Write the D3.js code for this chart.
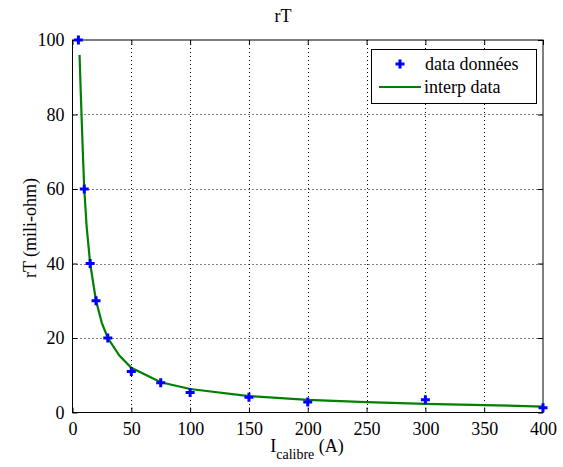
<!DOCTYPE html>
<html><head><meta charset="utf-8">
<script src="https://cdn.jsdelivr.net/npm/d3@7"></script>
<style>body{margin:0;background:#fff}svg{display:block}svg text{font-family:'Liberation Serif',serif !important;fill:#000}</style>
</head><body><svg id="c" width="563" height="467"></svg>
<script>
const dataX = [5, 10, 15, 20, 30, 50, 75, 100, 150, 200, 300, 400];
const dataY = [100, 60, 40, 30, 20, 11, 8, 5.4, 4.1, 2.8, 3.4, 1.3];
const interpX = [6, 7, 8, 9, 10, 12, 15, 20, 25, 30, 40, 50, 75, 100, 150, 200, 250, 300, 350, 400];
const interpY = [96, 86, 77, 68, 60, 50, 40, 30, 24, 20, 15.2, 12, 8.1, 6.3, 4.4, 3.4, 2.8, 2.3, 2.0, 1.6];
const xTicks = [0, 50, 100, 150, 200, 250, 300, 350, 400];
const yTicks = [0, 20, 40, 60, 80, 100];

const svg = d3.select("#c");
const L = 72.5, R = 543, T = 40, B = 412.5;
const x = d3.scaleLinear().domain([0, 400]).range([L, R]);
const y = d3.scaleLinear().domain([0, 100]).range([B, T]);
const FS = "18px";

// grid
const g = svg.append("g");
g.selectAll(".gx").data(xTicks.slice(1, -1)).enter().append("line")
  .attr("x1", d => Math.round(x(d)) + 0.5).attr("x2", d => Math.round(x(d)) + 0.5)
  .attr("y1", T).attr("y2", B).attr("stroke", "#000").attr("stroke-width", 1).attr("stroke-dasharray", "1,3");
g.selectAll(".gy").data(yTicks.slice(1, -1)).enter().append("line")
  .attr("y1", d => Math.round(y(d)) + 0.5).attr("y2", d => Math.round(y(d)) + 0.5)
  .attr("x1", L).attr("x2", R).attr("stroke", "#000").attr("stroke-width", 1).attr("stroke-dasharray", "1,3");

// axes
const xa = d3.axisBottom(x).tickValues(xTicks).tickSizeInner(-5).tickSizeOuter(0).tickPadding(10);
const ya = d3.axisLeft(y).tickValues(yTicks).tickSizeInner(-5).tickSizeOuter(0).tickPadding(8);
svg.append("g").attr("transform", `translate(0,${B})`).call(xa).attr("font-family", "Liberation Serif").attr("font-size", FS);
svg.append("g").attr("transform", `translate(${L},0)`).call(ya).attr("font-family", "Liberation Serif").attr("font-size", FS);
svg.append("g").attr("transform", `translate(0,${T})`).call(d3.axisTop(x).tickValues(xTicks).tickSizeInner(-5).tickSizeOuter(0).tickFormat(""));
svg.append("g").attr("transform", `translate(${R},0)`).call(d3.axisRight(y).tickValues(yTicks).tickSizeInner(-5).tickSizeOuter(0).tickFormat(""));
svg.selectAll(".domain").remove();
svg.selectAll(".tick line").attr("stroke", "#000");
svg.selectAll(".tick text").style("font-size", FS);
svg.append("rect").attr("x", L).attr("y", T).attr("width", R - L).attr("height", B - T)
  .attr("fill", "none").attr("stroke", "#000").attr("stroke-width", 1);

// line
const pts = interpX.map((d, i) => [d, interpY[i]]);
svg.append("path").datum(pts).attr("fill", "none").attr("stroke", "#008000").attr("stroke-width", 2.2)
  .attr("d", d3.line().x(d => x(d[0])).y(d => y(d[1])));

// markers
const star = d3.symbol().type(d3.symbolCross).size(45);
svg.selectAll(".m").data(dataX.map((d, i) => [d, dataY[i]])).enter().append("path")
  .attr("transform", d => `translate(${x(d[0])},${y(d[1])})`)
  .attr("d", star).attr("fill", "#0000ff");

// title & labels
svg.append("text").attr("x", 283).attr("y", 22).attr("text-anchor", "middle").style("font-size", FS).text("rT");
svg.append("text").attr("transform", "translate(36,228) rotate(-90)").attr("text-anchor", "middle").style("font-size", FS).text("rT (mili-ohm)");
const xl = svg.append("text").attr("x", 307).attr("y", 452).attr("text-anchor", "middle").style("font-size", FS);
xl.append("tspan").text("I");
xl.append("tspan").attr("dy", 7).style("font-size", "14px").text("calibre");
xl.append("tspan").attr("dy", -7).text(" (A)");

// legend
const lg = svg.append("g");
lg.append("rect").attr("x", 371.5).attr("y", 49.5).attr("width", 165).attr("height", 54).attr("fill", "#fff").attr("stroke", "#000");
lg.append("path").attr("transform", "translate(400,64)").attr("d", star).attr("fill", "#0000ff");
lg.append("text").attr("x", 425).attr("y", 70).style("font-size", FS).text("data données");
lg.append("line").attr("x1", 379).attr("x2", 421).attr("y1", 87).attr("y2", 87).attr("stroke", "#008000").attr("stroke-width", 2.2);
lg.append("text").attr("x", 424).attr("y", 93).style("font-size", FS).text("interp data");
</script></body></html>
